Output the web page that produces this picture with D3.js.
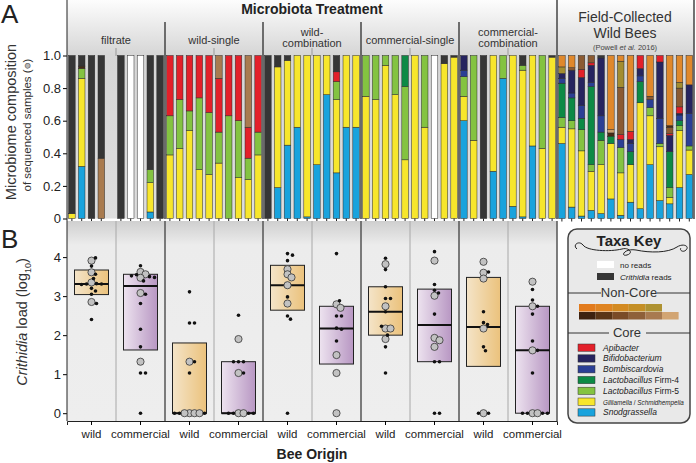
<!DOCTYPE html>
<html>
<head>
<meta charset="utf-8">
<script src="https://cdnjs.cloudflare.com/ajax/libs/d3/7.8.5/d3.min.js"></script>
<style>
  body { margin: 0; background: #fff; }
  svg text { font-family: "Liberation Sans", Arial, sans-serif; fill: #222; }
</style>
</head>
<body>
<div id="chart"></div>
<script>
// ---- data ----
const treatmentLabels = [["filtrate"], ["wild-single"], ["wild-", "combination"], ["commercial-single"], ["commercial-", "combination"]];
const origins = ["wild", "commercial", "wild", "commercial", "wild", "commercial", "wild", "commercial", "wild", "commercial"];

// relative abundance per sequenced bee, bottom to top
const filtrateWild = [
  [["gi", .03], ["cr", .97]],
  [["sn", .32], ["gi", .54], ["f5", .06], ["db", .015], ["cr", .065]],
  [["cr", 1]],
  [["b4", .37], ["cr", .63]]
];
const filtrateCommercial = [
  [["cr", 1]], [["nr", 1]], [["nr", 1]],
  [["sn", .04], ["gi", .18], ["f5", .08], ["cr", .70]],
  [["cr", 1]]
];
const wildSingleWild = [
  [["gi", .39], ["f5", .24], ["ap", .37]],
  [["gi", .43], ["f5", .30], ["ap", .27]],
  [["gi", .54], ["f5", .12], ["ap", .34]],
  [["gi", .30], ["f5", .44], ["ap", .26]],
  [["gi", .27], ["f5", .38], ["ap", .35]]
];
const wildSingleCommercial = [
  [["gi", .34], ["f5", .19], ["ap", .33], ["b4", .14]],
  [["f5", .63], ["ap", .37]],
  [["gi", .25], ["f5", .35], ["ap", .40]],
  [["gi", .24], ["f5", .13], ["ap", .19], ["b4", .44]],
  [["gi", .39], ["f5", .14], ["ap", .47]]
];
const wildCombWild = [
  [["cr", 1]],
  [["sn", .19], ["gi", .74], ["cr", .07]],
  [["sn", .45], ["gi", .52], ["cr", .03]],
  [["sn", .56], ["gi", .44]],
  [["sn", .01], ["gi", .99]]
];
const wildCombCommercial = [
  [["sn", .33], ["gi", .67]],
  [["sn", .76], ["gi", .24]],
  [["sn", .28], ["gi", .45], ["f5", .11], ["ap", .06], ["cr", .10]],
  [["sn", .56], ["gi", .44]],
  [["sn", .56], ["gi", .44]]
];
const commSingleWild = [
  [["gi", .75], ["f5", .25]],
  [["gi", .73], ["f5", .27]],
  [["gi", .94], ["f5", .06]],
  [["gi", .76], ["f5", .24]],
  [["gi", .36], ["f5", .45], ["f4", .19]]
];
const commSingleCommercial = [
  [["gi", 1]],
  [["gi", .56], ["f5", .44]],
  [["nr", 1]],
  [["gi", .95], ["cr", .05]],
  [["gi", .99], ["cr", .01]]
];
const commCombWild = [
  [["sn", .60], ["gi", .15], ["f5", .12], ["bo", .04], ["bi", .09]],
  [["gi", .48], ["f5", .52]],
  [["cr", 1]],
  [["sn", .29], ["gi", .71]],
  [["sn", .86], ["f5", .14]]
];
const commCombCommercial = [
  [["sn", .075], ["gi", .925]],
  [["sn", .01], ["gi", .90], ["f5", .03], ["cr", .06]],
  [["sn", .445], ["gi", .555]],
  [["gi", .43], ["f5", .57]],
  [["gi", .99], ["cr", .01]]
];
const fieldBees = [
  [["sn", .46], ["gi", .10], ["f5", .06], ["f4", .21], ["bo", .03], ["bi", .03], ["ol", .04], ["or", .07]],
  [["sn", .07], ["gi", .48], ["f5", .05], ["f4", .14], ["bo", .03], ["bi", .14], ["br", .015], ["or", .075]],
  [["sn", .015], ["gi", .40], ["f5", .13], ["f4", .07], ["bo", .08], ["bi", .17], ["ap", .05], ["br", .085]],
  [["sn", .05], ["gi", .24], ["f5", .04], ["f4", .48], ["bo", .025], ["bi", .105], ["ap", .015], ["br", .045]],
  [["sn", .03], ["gi", .30], ["f5", .15], ["f4", .05], ["bo", .10], ["bi", .355], ["cr", .015]],
  [["sn", .12], ["gi", .34], ["f4", .045], ["db", .02], ["tn", .02], ["or", .455]],
  [["sn", .02], ["gi", .26], ["f5", .155], ["bo", .05], ["ap", .03], ["br", .29], ["ol", .16], ["or", .035]],
  [["sn", .10], ["gi", .23], ["f4", .08], ["bo", .05], ["bi", .025], ["ap", .05], ["or", .465]],
  [["sn", .06], ["gi", .65], ["f4", .13], ["bo", .035], ["bi", .045], ["ap", .08]],
  [["sn", .33], ["gi", .30], ["f5", .05], ["bo", .05], ["br", .02], ["or", .25]],
  [["sn", .11], ["gi", .33], ["f5", .02], ["bo", .155], ["bi", .345], ["ap", .04]],
  [["sn", .09], ["gi", .04], ["f5", .06], ["f4", .22], ["bi", .10], ["ap", .01], ["br", .04], ["db", .01], ["or", .43]],
  [["sn", .19], ["gi", .35], ["f5", .03], ["f4", .03], ["bo", .035], ["bi", .01], ["ap", .04], ["br", .115], ["ol", .035], ["or", .165]],
  [["sn", .27], ["gi", .15], ["f5", .025], ["bo", .20], ["bi", .175], ["or", .18]]
];

// Crithidia load (log10) per bee: [value, sequenced?]
const loadFiltrateWild = [[3.98,0],[3.91,1],[3.77,0],[3.61,1],[3.56,0],[3.45,0],[3.35,1],[3.31,0],[3.31,0],[3.30,0],[3.32,0],[3.20,0],[3.13,0],[3.05,0],[2.85,1],[2.81,0],[2.40,0]];
const loadFiltrateCommercial = [[3.78,0],[3.62,1],[3.55,0],[3.52,0],[3.47,1],[3.50,0],[3.48,0],[3.56,1],[3.39,0],[3.05,0],[3.08,1],[2.81,0],[2.15,0],[1.70,0],[1.32,1],[1.03,0],[1.03,0],[0,0]];
const loadWildSingleWild = [[3.11,0],[2.31,0],[2.31,0],[1.32,1],[1.32,0],[1.03,0],[0,1],[0,1],[0,1],[0,1],[0,0],[0,0],[0,0]];
const loadWildSingleCommercial = [[2.51,0],[1.90,1],[1.32,0],[1.32,0],[1.32,0],[1.03,0],[1.03,1],[0,1],[0,1],[0,0],[0,0],[0,0],[0,0]];
const loadWildCombWild = [[4.09,0],[4.05,0],[3.91,0],[3.69,1],[3.56,1],[3.48,1],[3.28,1],[2.98,0],[2.81,1],[2.49,0],[2.41,0],[0,0]];
const loadWildCombCommercial = [[4.09,0],[2.88,0],[2.79,1],[2.70,1],[2.49,0],[2.49,0],[2.15,0],[2.18,0],[1.85,0],[1.49,1],[1.03,1],[0,1]];
const loadCommSingleWild = [[3.97,0],[3.82,1],[3.68,0],[3.24,0],[2.94,0],[2.94,0],[2.74,1],[2.60,0],[2.17,1],[2.17,1],[2.23,0],[2.00,0],[1.90,1],[1.70,0],[1.03,0]];
const loadCommSingleCommercial = [[4.14,0],[3.91,1],[3.30,0],[3.15,0],[3.08,0],[3.01,1],[2.54,0],[1.87,1],[1.93,1],[1.70,1],[1.32,0],[1.32,0],[0,0],[0,0]];
const loadCommCombWild = [[3.88,1],[3.60,1],[3.45,1],[3.62,0],[2.60,0],[2.32,0],[2.27,0],[2.17,1],[1.70,0],[1.60,0],[0,1],[0,0],[0,0]];
const loadCommCombCommercial = [[3.37,1],[3.17,0],[2.90,0],[2.74,1],[2.74,0],[2.54,0],[1.85,0],[1.61,1],[1.61,0],[1.03,0],[0,1],[0,1],[0,0],[0,0],[0,0],[0,0]];

// box quartiles [q1, median, q3]
const boxStats = [[3.04,3.31,3.67],[1.62,3.26,3.56],[0,0,1.80],[0,0,1.32],[2.64,3.28,3.79],[1.26,2.17,2.74],[2.00,2.60,3.24],[1.32,2.26,3.18],[1.20,2.21,3.48],[0,1.61,2.74]];

const taxaColors = {
  sn: "#19a3dd", gi: "#f7e62c", f5: "#84c341", f4: "#0d8a45", bo: "#2b3f95", bi: "#26245f",
  ap: "#e3202a", cr: "#363636", nr: "#ffffff", or: "#e0882b", ol: "#a38d30", br: "#8b5a32",
  db: "#4a2c14", tn: "#c9a072", b4: "#a97b4f"
};
const coreTaxa = ["ap", "bi", "bo", "f4", "f5", "gi", "sn"];
const nonCoreTop = ["#e27b1d", "#df8422", "#d38a22", "#c48f26", "#ae9232"];
const nonCoreBottom = ["#3e2210", "#5a3517", "#7a4b27", "#8e6039", "#a87a50", "#d2a573"];

// ---- layout ----
const W = 696, H = 463;
const svg = d3.select("#chart").append("svg").attr("width", W).attr("height", H);
const defs = svg.append("defs");

const topGrad = defs.append("linearGradient").attr("id", "topbg").attr("x1", 0).attr("x2", 0).attr("y1", 0).attr("y2", 1);
topGrad.append("stop").attr("offset", "0").attr("stop-color", "#fdfdfd");
topGrad.append("stop").attr("offset", "0.25").attr("stop-color", "#d6d6d6");
topGrad.append("stop").attr("offset", "1").attr("stop-color", "#dedede");
const botGrad = defs.append("linearGradient").attr("id", "botbg").attr("x1", 0).attr("x2", 0).attr("y1", 0).attr("y2", 1);
botGrad.append("stop").attr("offset", "0").attr("stop-color", "#cfcfcf");
botGrad.append("stop").attr("offset", "0.12").attr("stop-color", "#ececec");
botGrad.append("stop").attr("offset", "1").attr("stop-color", "#eeeeee");
const wildGrad = defs.append("linearGradient").attr("id", "wildbox");
wildGrad.append("stop").attr("offset", "0").attr("stop-color", "#f4e4c8");
wildGrad.append("stop").attr("offset", "1").attr("stop-color", "#ebc27c");
const commGrad = defs.append("linearGradient").attr("id", "commbox");
commGrad.append("stop").attr("offset", "0").attr("stop-color", "#ede3ef");
commGrad.append("stop").attr("offset", "1").attr("stop-color", "#b897c3");

const xBar = d3.scaleBand().domain(d3.range(64)).range([67, 694.2]).paddingInner(0.33).paddingOuter(0.165);
const yTop = d3.scaleLinear().domain([0, 1]).range([218.5, 55.5]);
const xHalf = d3.scaleBand().domain(d3.range(10)).range([67, 557]);
const yBot = d3.scaleLinear().domain([-0.2, 4.9]).range([421, 222]);

// ---- panel A ----
svg.append("rect").attr("x", 67).attr("y", 0).attr("width", 627).attr("height", 218.5).attr("fill", "url(#topbg)");

svg.append("text").attr("x", 312).attr("y", 14).attr("text-anchor", "middle")
  .style("font-size", "14px").style("font-weight", "700").text("Microbiota Treatment");

treatmentLabels.forEach((lines, g) => {
  const cx = 67 + g * 98 + 49;
  lines.forEach((t, i) => {
    svg.append("text").attr("x", cx).attr("y", lines.length === 1 ? 44 : 36 + i * 11)
      .attr("text-anchor", "middle").style("font-size", "11px").style("fill", "#333").text(t);
  });
  svg.append("line").attr("x1", cx).attr("x2", cx).attr("y1", 48).attr("y2", 56)
    .attr("stroke", "#999").attr("stroke-width", 1);
});

const fc = svg.append("g").attr("transform", "translate(625,0)");
fc.append("text").attr("y", 22).attr("text-anchor", "middle").style("font-size", "14px").style("fill", "#333").text("Field-Collected");
fc.append("text").attr("y", 38).attr("text-anchor", "middle").style("font-size", "14px").style("fill", "#333").text("Wild Bees");
const pw = fc.append("text").attr("y", 50).attr("text-anchor", "middle").style("font-size", "7.5px").style("fill", "#444");
pw.append("tspan").text("(Powell ");
pw.append("tspan").style("font-style", "italic").text("et al.");
pw.append("tspan").text(" 2016)");

const compositionGroups = [
  [filtrateWild, filtrateCommercial], [wildSingleWild, wildSingleCommercial],
  [wildCombWild, wildCombCommercial], [commSingleWild, commSingleCommercial],
  [commCombWild, commCombCommercial]
];
const bars = [];
compositionGroups.forEach((halves, g) => {
  halves.forEach((list, h) => list.forEach((segs, i) => bars.push({ slot: g * 10 + h * 5 + i, segs })));
});
fieldBees.forEach((segs, i) => bars.push({ slot: 50 + i, segs }));

const barG = svg.append("g");
bars.forEach(b => {
  let cum = 0;
  b.segs.forEach(([k, v]) => {
    const top = Math.min(1, cum + v);
    barG.append("rect")
      .attr("x", xBar(b.slot)).attr("width", xBar.bandwidth())
      .attr("y", yTop(top)).attr("height", yTop(cum) - yTop(top))
      .attr("fill", taxaColors[k]).attr("stroke", "#2b2b2b").attr("stroke-width", 0.5);
    cum = top;
  });
  barG.append("line").attr("x1", xBar(b.slot) + xBar.bandwidth() / 2).attr("x2", xBar(b.slot) + xBar.bandwidth() / 2)
    .attr("y1", 218.5).attr("y2", 221.5).attr("stroke", "#222").attr("stroke-width", 1);
});

// group separators
for (let k = 1; k <= 5; k++) {
  const sx = 67 + k * 98;
  svg.append("line").attr("x1", sx).attr("x2", sx).attr("y1", k === 5 ? 0 : 22).attr("y2", 219)
    .attr("stroke", "#444").attr("stroke-width", 1.5);
}
svg.append("line").attr("x1", 694).attr("x2", 694).attr("y1", 0).attr("y2", 219).attr("stroke", "#444").attr("stroke-width", 1.5);

// axis A
const axA = svg.append("g").attr("transform", "translate(67,0)")
  .call(d3.axisLeft(yTop).tickValues([0, .2, .4, .6, .8, 1]).tickSize(4).tickFormat(d => d === 0 ? "0" : d3.format(".1f")(d)));
axA.select(".domain").remove();
axA.selectAll("text").style("font-size", "13px").style("fill", "#222").attr("x", -6);
svg.append("line").attr("x1", 67).attr("x2", 67).attr("y1", 0).attr("y2", 221).attr("stroke", "#222");

// ---- panel B ----
svg.append("rect").attr("x", 67).attr("y", 221).attr("width", 490).attr("height", 200).attr("fill", "url(#botbg)");
for (let k = 1; k < 10; k++) {
  const sx = xHalf(k);
  const major = k % 2 === 0;
  svg.append("line").attr("x1", sx).attr("x2", sx).attr("y1", 221).attr("y2", 421)
    .attr("stroke", major ? "#555" : "#a8a8a8").attr("stroke-width", major ? 1.5 : 1);
}
svg.append("line").attr("x1", 557).attr("x2", 557).attr("y1", 221).attr("y2", 421).attr("stroke", "#555").attr("stroke-width", 1.5);

const loads = [loadFiltrateWild, loadFiltrateCommercial, loadWildSingleWild, loadWildSingleCommercial,
  loadWildCombWild, loadWildCombCommercial, loadCommSingleWild, loadCommSingleCommercial,
  loadCommCombWild, loadCommCombCommercial];

function swarm(points, cx) {
  const order = points.map(p => ({ v: p[0], seq: p[1] }))
    .sort((a, b) => (b.seq - a.seq) || (b.v - a.v));
  const placed = [];
  order.forEach(p => {
    p.y = yBot(p.v);
    for (let k = 0; k < 80; k++) {
      const dx = (k % 2 ? 1 : -1) * Math.ceil(k / 2);
      const ok = placed.every(q => {
        const md = (p.seq && q.seq) ? 5 : 4.3;
        return Math.hypot(dx - q.dx, p.y - q.y) >= md;
      });
      if (ok) { p.dx = dx; break; }
    }
    placed.push(p);
  });
  placed.forEach(p => { p.x = cx + p.dx; });
  return placed;
}

const boxW = 34;
boxStats.forEach(([q1, med, q3], i) => {
  const cx = xHalf(i) + xHalf.bandwidth() / 2;
  const g = svg.append("g");
  g.append("rect").attr("x", cx - boxW / 2).attr("width", boxW)
    .attr("y", yBot(q3)).attr("height", yBot(q1) - yBot(q3))
    .attr("fill", i % 2 === 0 ? "url(#wildbox)" : "url(#commbox)")
    .attr("stroke", "#222").attr("stroke-width", 1);
  g.append("line").attr("x1", cx - boxW / 2).attr("x2", cx + boxW / 2)
    .attr("y1", yBot(med)).attr("y2", yBot(med)).attr("stroke", "#111").attr("stroke-width", 2);
  const pts = swarm(loads[i], cx);
  g.selectAll(".seq").data(pts.filter(p => p.seq)).enter().append("circle")
    .attr("cx", d => d.x).attr("cy", d => d.y).attr("r", 3.6)
    .attr("fill", "#c2c2c2").attr("stroke", "#333").attr("stroke-width", 0.8);
  g.selectAll(".dot").data(pts.filter(p => !p.seq)).enter().append("circle")
    .attr("cx", d => d.x).attr("cy", d => d.y).attr("r", 1.8).attr("fill", "#111");
});

const axB = svg.append("g").attr("transform", "translate(67,0)")
  .call(d3.axisLeft(yBot).tickValues([0, 1, 2, 3, 4]).tickSize(4).tickFormat(d3.format("d")));
axB.select(".domain").remove();
axB.selectAll("text").style("font-size", "13px").style("fill", "#222").attr("x", -6);
svg.append("line").attr("x1", 67).attr("x2", 67).attr("y1", 221).attr("y2", 421).attr("stroke", "#222");

const axX = svg.append("g").attr("transform", "translate(0,421)")
  .call(d3.axisBottom(xHalf).tickSize(4).tickFormat(i => origins[i]));
axX.select(".domain").attr("stroke", "#222");
axX.selectAll("text").style("font-size", "11.5px").style("fill", "#222").attr("y", 9);

svg.append("text").attr("x", 312).attr("y", 459).attr("text-anchor", "middle")
  .style("font-size", "14px").style("font-weight", "700").text("Bee Origin");

// panel letters and y titles
svg.append("text").attr("x", 1).attr("y", 23).style("font-size", "26px").text("A");
svg.append("text").attr("x", 1).attr("y", 248).style("font-size", "26px").text("B");

svg.append("text").attr("transform", "translate(16,122) rotate(-90)").attr("text-anchor", "middle")
  .style("font-size", "14.5px").style("fill", "#333").text("Microbiome composition");
const sub = svg.append("text").attr("transform", "translate(31,125) rotate(-90)").attr("text-anchor", "middle")
  .style("font-size", "11.5px").style("fill", "#333");
sub.append("tspan").text("of sequenced samples (");
sub.append("tspan").style("fill", "#b8b8b8").style("stroke", "#555").style("stroke-width", 0.6).text("●");
sub.append("tspan").text(")");

const cl = svg.append("text").attr("transform", "translate(27,322) rotate(-90)").attr("text-anchor", "middle")
  .style("font-size", "14.5px").style("fill", "#333");
cl.append("tspan").style("font-style", "italic").text("Crithidia");
cl.append("tspan").text(" load (log");
cl.append("tspan").attr("dy", 4).style("font-size", "9px").text("10");
cl.append("tspan").attr("dy", -4).text(")");

// ---- taxa key ----
const key = svg.append("g");
key.append("rect").attr("x", 568).attr("y", 229).attr("width", 122).attr("height", 194).attr("rx", 9)
  .attr("fill", "#e9e9e9").attr("stroke", "#444").attr("stroke-width", 1.5);
key.append("text").attr("x", 629).attr("y", 246).attr("text-anchor", "middle")
  .style("font-size", "15px").style("font-weight", "700").text("Taxa Key");
key.append("path")
  .attr("d", "M577,249 C572,245 579,240 583,245 C587,251 610,252 622,249 C629,247 634,253 627,255 C620,257 624,248 636,250 C650,253 668,253 677,247 C683,243 690,246 686,250 C683,253 679,250 681,248")
  .attr("fill", "none").attr("stroke", "#222").attr("stroke-width", 1);

key.append("rect").attr("x", 597).attr("y", 261).attr("width", 17).attr("height", 7).attr("fill", "#fff");
key.append("text").attr("x", 620).attr("y", 268).style("font-size", "8px").text("no reads");
key.append("rect").attr("x", 597).attr("y", 273).attr("width", 17).attr("height", 7).attr("fill", taxaColors.cr);
const crt = key.append("text").attr("x", 620).attr("y", 280).style("font-size", "8px");
crt.append("tspan").style("font-style", "italic").text("Crithidia");
crt.append("tspan").text(" reads");

function keyHeading(label, y, x0, x1) {
  key.append("text").attr("x", (x0 + x1) / 2).attr("y", y).attr("text-anchor", "middle")
    .style("font-size", "13px").style("fill", "#333").text(label);
}
keyHeading("Non-Core", 297, 603, 655);
key.append("line").attr("x1", 568).attr("x2", 601).attr("y1", 293).attr("y2", 293).attr("stroke", "#333");
key.append("line").attr("x1", 657).attr("x2", 690).attr("y1", 293).attr("y2", 293).attr("stroke", "#333");
nonCoreTop.forEach((c, i) => key.append("rect").attr("x", 579 + i * 16.6).attr("y", 304).attr("width", 16.6).attr("height", 7.5).attr("fill", c));
nonCoreBottom.forEach((c, i) => key.append("rect").attr("x", 579 + i * 16.6).attr("y", 312).attr("width", 16.6).attr("height", 7.5).attr("fill", c));

keyHeading("Core", 337, 610, 644);
key.append("line").attr("x1", 568).attr("x2", 609).attr("y1", 333).attr("y2", 333).attr("stroke", "#333");
key.append("line").attr("x1", 646).attr("x2", 690).attr("y1", 333).attr("y2", 333).attr("stroke", "#333");

const coreLabels = [
  [["Apibacter", 1]], [["Bifidobacterium", 1]], [["Bombiscardovia", 1]],
  [["Lactobacillus", 1], [" Firm-4", 0]], [["Lactobacillus", 1], [" Firm-5", 0]],
  [["Gilliamella", 1], [" / ", 0], ["Schmidhempelia", 1]], [["Snodgrassella", 1]]
];
coreTaxa.forEach((k, i) => {
  const y = 344 + i * 10.8;
  key.append("rect").attr("x", 578).attr("y", y).attr("width", 17).attr("height", 7.3)
    .attr("fill", taxaColors[k]).attr("stroke", "#333").attr("stroke-width", 0.5);
  const t = key.append("text").attr("x", 603).attr("y", y + 6.5).style("font-size", k === "gi" ? "6.3px" : "8.5px");
  coreLabels[i].forEach(([s, it]) => t.append("tspan").style("font-style", it ? "italic" : "normal").text(s));
});
</script>
</body>
</html>
